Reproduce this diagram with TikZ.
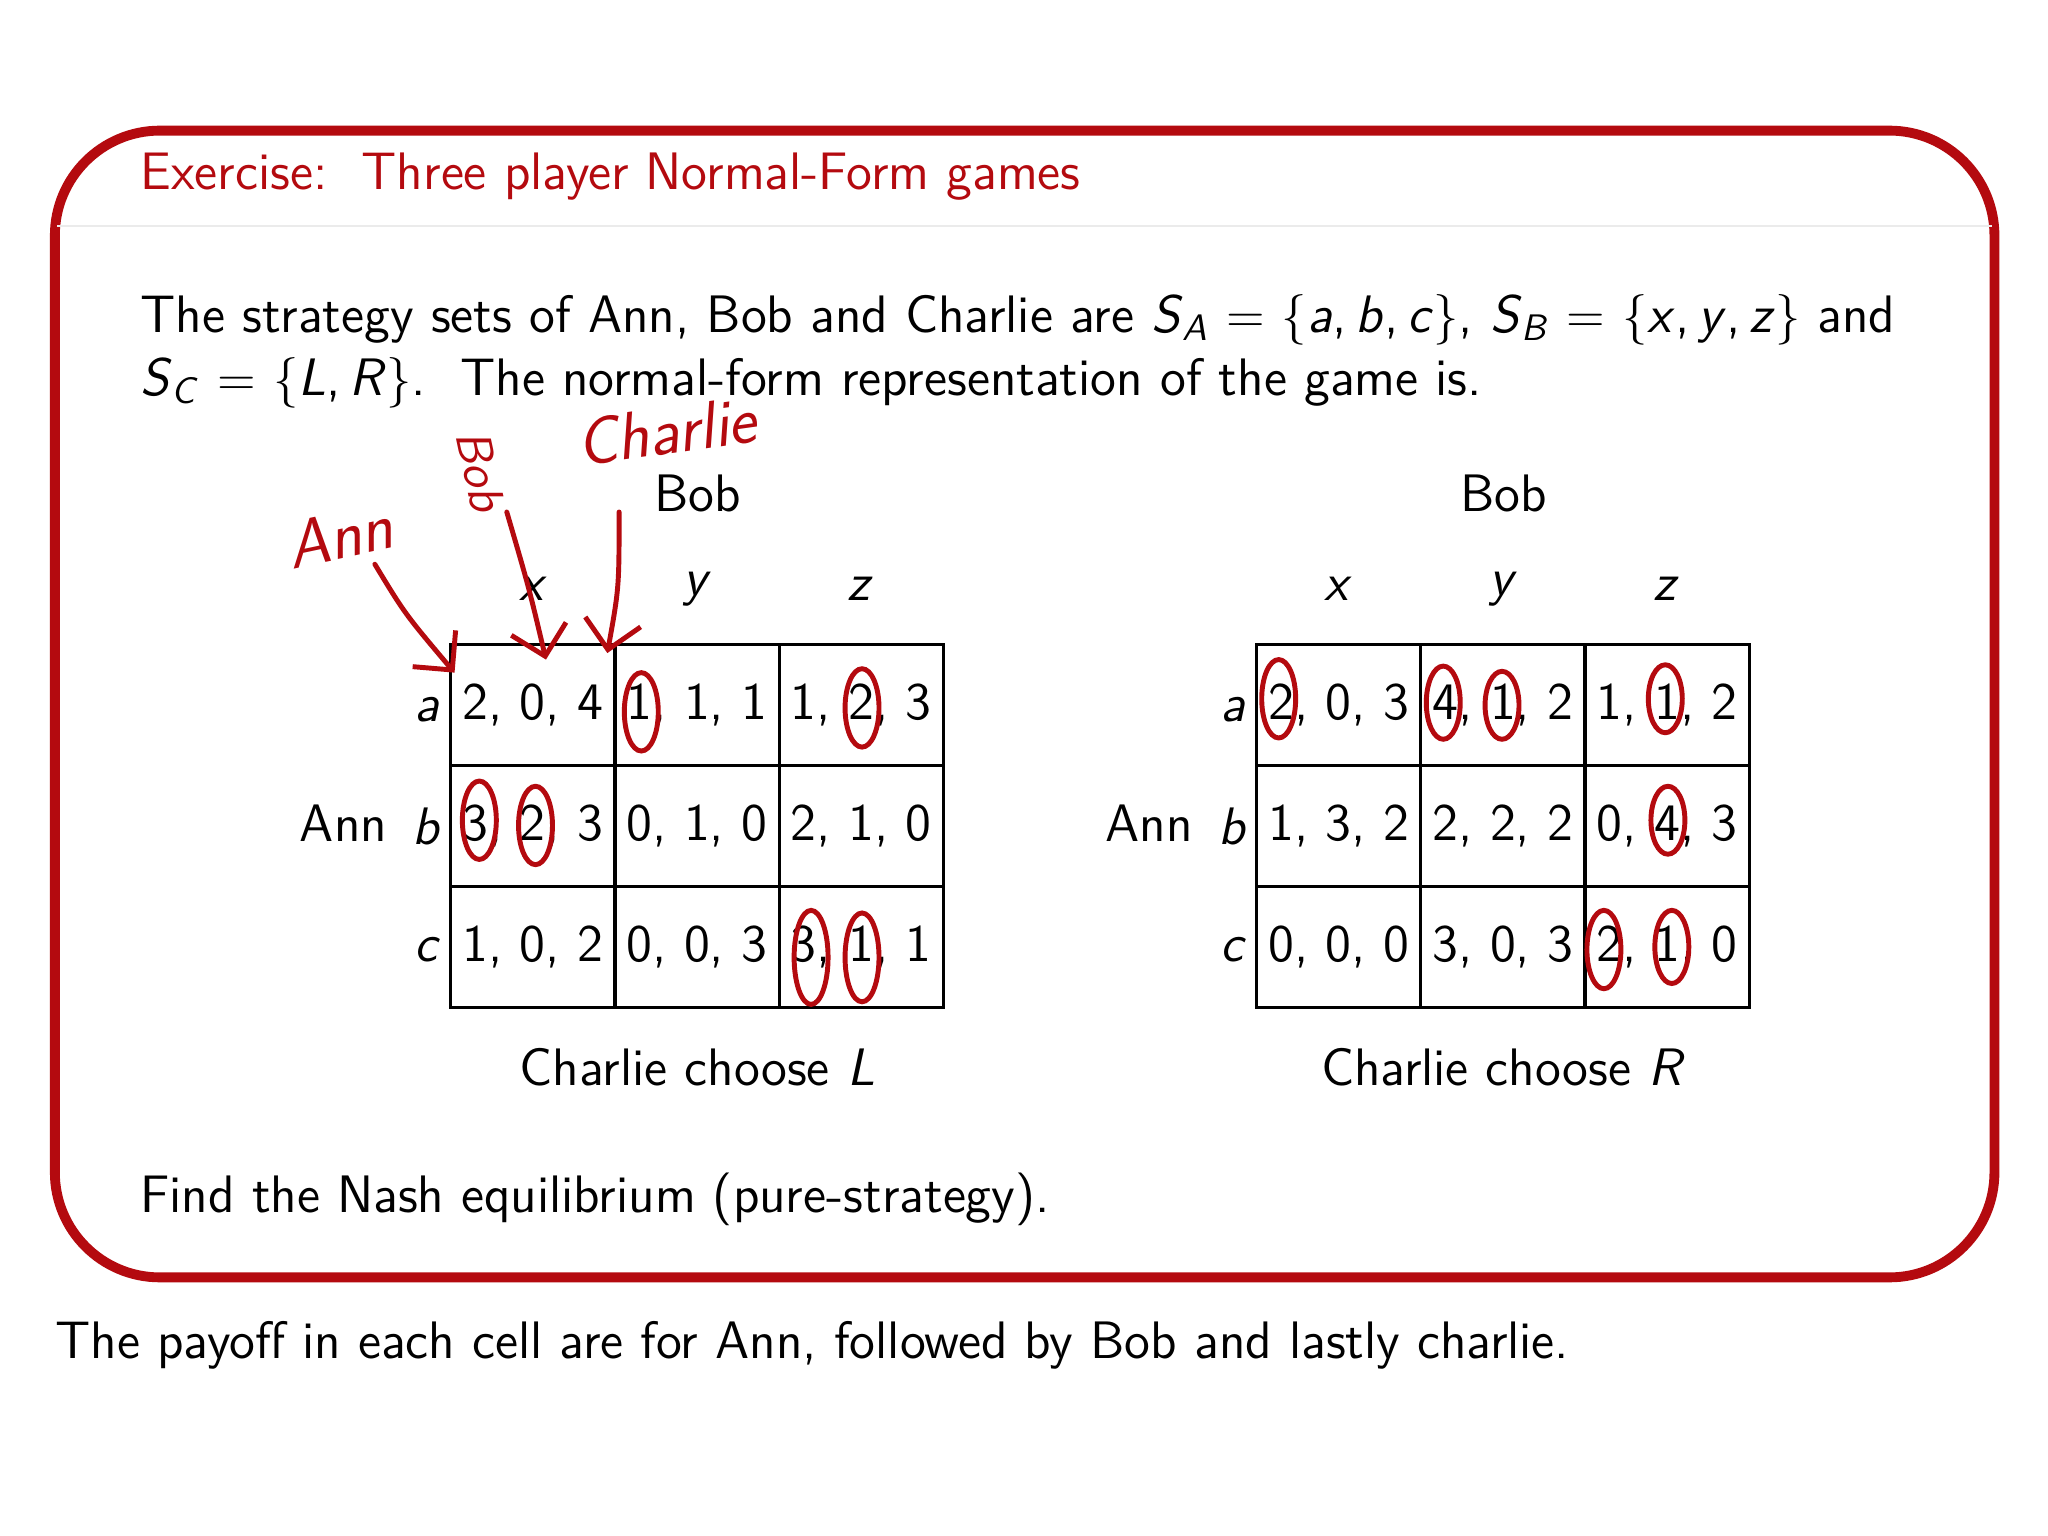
\documentclass[tikz,border=0pt]{standalone}
\usetikzlibrary{arrows.meta}
\definecolor{bred}{RGB}{180,10,15}
\newcommand\mv[1]{\textsf{\textit{#1}}}
\newcommand\msub[1]{$_{\hbox{\fontsize{10.5}{12}\selectfont\mv{#1}}}$}
\begin{document}
\begin{tikzpicture}[x=0.013061cm,y=-0.013061cm,
  txt/.style={font=\sffamily\fontsize{15}{18}\selectfont,inner sep=0pt},
  cell/.style={txt,minimum width=1.646cm,minimum height=1.21cm},
  hand/.style={bred,line width=1.4pt,line cap=round}]
\useasboundingbox (0,0) rectangle (1568,1176);
\fill[white] (0,0) rectangle (1568,1176);
\draw[bred,line width=2.8pt,rounded corners=1.05cm] (42,100) rectangle (1527,978);
\draw[black!8,line width=0.6pt] (44,173) -- (1525,173);
\node[txt,anchor=west,text=bred] (title) at (107,135) {Exercise:\ \ Three player Normal-Form games};
\node[txt,anchor=west] (l1) at (107,245) {The strategy sets of Ann, Bob and Charlie are \mv{S}\msub{A} $=$ $\{$\mv{a},\,\mv{b},\,\mv{c}$\}$, \mv{S}\msub{B} $=$ $\{$\mv{x},\,\mv{y},\,\mv{z}$\}$ and};
\node[txt,anchor=west] (l2) at (107,293) {\mv{S}\msub{C} $=$ $\{$\mv{L},\,\mv{R}$\}$.\ \ The normal-form representation of the game is.};
% tables
\foreach \ox/\lab/\vals in {345/L/{{2, 0, 4},{1, 1, 1},{1, 2, 3},{3, 2, 3},{0, 1, 0},{2, 1, 0},{1, 0, 2},{0, 0, 3},{3, 1, 1}},
                          962/R/{{2, 0, 3},{4, 1, 2},{1, 1, 2},{1, 3, 2},{2, 2, 2},{0, 4, 3},{0, 0, 0},{3, 0, 3},{2, 1, 0}}}{
  \foreach \v [count=\i from 0] in \vals {
    \pgfmathtruncatemacro\r{int(\i/3)}
    \pgfmathtruncatemacro\c{mod(\i,3)}
    \node[cell,draw,line width=0.8pt] (c\lab\i) at (\ox+63+\c*125.7,539.5+\r*92.7) {\v};
  }
  \node[txt] (bob\lab) at (\ox+189,378) {Bob};
  \node[txt] (x\lab) at (\ox+63,451) {\mv{x}};
  \node[txt] (y\lab) at (\ox+189,451) {\mv{y}};
  \node[txt] (z\lab) at (\ox+314,451) {\mv{z}};
  \node[txt] (a\lab) at (\ox-18,543) {\mv{a}};
  \node[txt] (b\lab) at (\ox-18,633) {\mv{b}};
  \node[txt] (cc\lab) at (\ox-18,727) {\mv{c}};
  \node[txt] (ann\lab) at (\ox-82,630) {Ann};
  \node[txt] (ch\lab) at (\ox+189,817) {Charlie choose \mv{\lab}};
}
\node[txt,anchor=west] (find) at (107,918) {Find the Nash equilibrium (pure-strategy).};
\node[txt,anchor=west] (foot) at (42,1030) {The payoff in each cell are for Ann, followed by Bob and lastly charlie.};
% handwritten annotations
\node[bred,font=\sffamily\itshape\fontsize{19}{19}\selectfont,rotate=12,inner sep=0pt] (hA) at (260,410) {Ann};
\node[bred,font=\sffamily\itshape\fontsize{14}{14}\selectfont,rotate=-78,inner sep=0pt] (hB) at (368,360) {Bob};
\node[bred,font=\sffamily\itshape\fontsize{19}{19}\selectfont,rotate=8,inner sep=0pt] (hC) at (510,330) {Charlie};
\coordinate (tA) at (348,515); \coordinate (tB) at (418,505); \coordinate (tC) at (465,500);
\draw[hand,-{Straight Barb[length=8pt]}] (287,432) .. controls (310,470) .. (tA);
\draw[hand,-{Straight Barb[length=8pt]}] (388,392) .. controls (405,450) .. (tB);
\draw[hand,-{Straight Barb[length=8pt]}] (474,392) .. controls (474,450) .. (tC);
\foreach \px/\py/\h in {491/545/30, 660/542/30, 367/628/30, 410/632/30, 621/733/36, 660/733/34,
   979/535/30, 1105/538/28, 1150/540/26, 1275/535/26, 1277/628/26, 1228/727/30, 1280/725/28}
  \draw[hand] (\px,\py) ellipse (13 and \h);
\end{tikzpicture}
\end{document}
